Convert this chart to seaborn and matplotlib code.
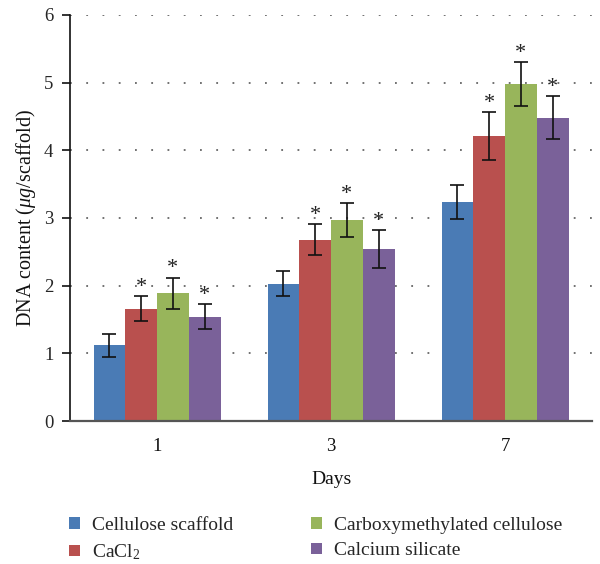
import numpy as np
import pandas as pd
import matplotlib
matplotlib.use("Agg")
import matplotlib.pyplot as plt
import seaborn as sns

days = ["1", "3", "7"]
groups = ["Cellulose scaffold", "CaCl$_2$", "Carboxymethylated cellulose", "Calcium silicate"]
means = {
    "Cellulose scaffold": [1.12, 2.03, 3.24],
    "CaCl$_2$": [1.66, 2.68, 4.21],
    "Carboxymethylated cellulose": [1.89, 2.97, 4.98],
    "Calcium silicate": [1.54, 2.54, 4.48],
}
errors = {
    "Cellulose scaffold": [0.17, 0.185, 0.25],
    "CaCl$_2$": [0.18, 0.23, 0.35],
    "Carboxymethylated cellulose": [0.23, 0.25, 0.32],
    "Calcium silicate": [0.185, 0.28, 0.32],
}
significant = {
    "Cellulose scaffold": [False, False, False],
    "CaCl$_2$": [True, True, True],
    "Carboxymethylated cellulose": [True, True, True],
    "Calcium silicate": [True, True, True],
}
colors = ["#4A7BB5", "#B9504E", "#98B55B", "#7A6199"]

rows = []
for g in groups:
    for i, d in enumerate(days):
        rows.append({"Days": d, "Group": g, "DNA": means[g][i]})
df = pd.DataFrame(rows)

sns.set_theme(style="white")
plt.rcParams["font.family"] = ["Liberation Serif", "DejaVu Serif"]
plt.rcParams["mathtext.fontset"] = "custom"
plt.rcParams["mathtext.rm"] = "Liberation Serif"
plt.rcParams["mathtext.it"] = "Liberation Serif:italic"

fig = plt.figure(figsize=(6.0, 5.64), dpi=100)
ax = fig.add_axes([0.1167, 0.2535, 0.87, 0.72])

sns.barplot(data=df, x="Days", y="DNA", hue="Group", order=days, hue_order=groups,
            palette=colors, width=0.73, gap=0, errorbar=None, saturation=1,
            linewidth=0, ax=ax)

# error bars and significance markers
for gi, g in enumerate(groups):
    cont = ax.containers[gi]
    for i, rect in enumerate(cont):
        xc = rect.get_x() + rect.get_width() / 2
        h = means[g][i]
        e = errors[g][i]
        ax.errorbar(xc, h, yerr=e, fmt="none", ecolor="#111111", elinewidth=1.2,
                    capsize=5, capthick=1.2, zorder=5)
        if significant[g][i]:
            ax.annotate("*", xy=(xc, h + e), xytext=(0, 3.2), textcoords="offset points",
                        ha="center", va="baseline", fontsize=16, color="#222222")

ax.set_ylim(0, 6)
ax.set_xlim(-0.5, 2.5)
ax.set_yticks(range(0, 7))
ax.yaxis.grid(True, linestyle=(0, (1, 8)), color="#666666", linewidth=1.3)
ax.set_axisbelow(True)
ax.xaxis.grid(False)

ax.set_xticks([-0.5, 0.5, 1.5, 2.5], minor=True)
ax.tick_params(axis="x", which="major", length=0, labelsize=13.5, pad=12, colors="#111111")
ax.tick_params(axis="x", which="minor", length=6, width=1.3, color="#444444", direction="out")
ax.tick_params(axis="y", which="major", length=6, width=1.2, color="#111111",
               direction="out", labelsize=13.5, pad=6, left=True)

for s in ["top", "right"]:
    ax.spines[s].set_visible(False)
ax.spines["left"].set_color("#111111")
ax.spines["left"].set_linewidth(1.2)
ax.spines["bottom"].set_color("#555555")
ax.spines["bottom"].set_linewidth(1.6)

ax.set_xlabel("Days", fontsize=14, labelpad=12, color="#111111")
ax.set_ylabel("DNA content ($\\mu g$/scaffold)", fontsize=14.5, labelpad=4, color="#111111")

handles, labels = ax.get_legend_handles_labels()
if ax.legend_:
    ax.legend_.remove()
leg = fig.legend(handles, labels, loc="upper left", bbox_to_anchor=(0.115, 0.084),
                 ncol=2, frameon=False, fontsize=14, handlelength=0.57, handleheight=0.57,
                 handletextpad=0.62, columnspacing=4.0, labelspacing=0.45,
                 borderaxespad=0, borderpad=0)

fig.savefig("out.png", dpi=100)
